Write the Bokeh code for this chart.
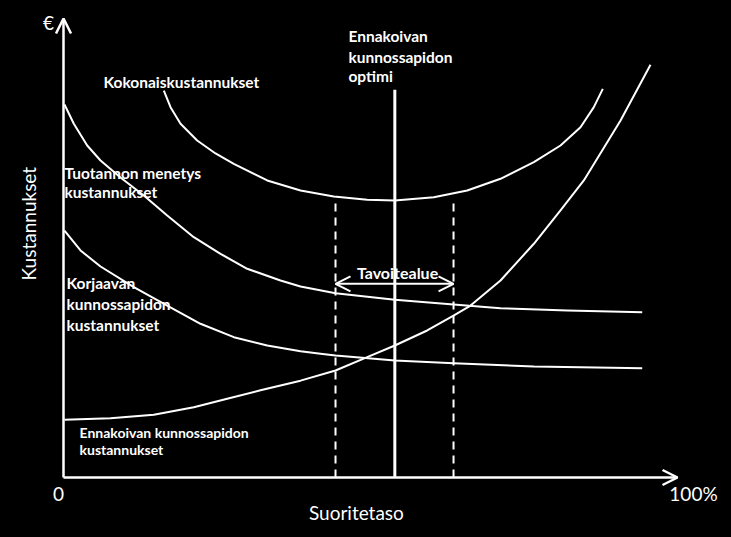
from bokeh.plotting import figure
from bokeh.models import Range1d, Arrow, OpenHead
from bokeh.core.properties import value
from bokeh.embed import file_html
from bokeh.resources import INLINE
import math

# --- data (x: suoritetaso %, y: kustannukset, arbitrary units 0..100) ---
total_x = [16.34, 17.43, 19.06, 21.77, 24.76, 27.74, 33.18, 38.60, 44.02, 49.46,
           53.96, 60.31, 65.75, 71.17, 76.60, 80.94, 84.20, 86.37, 87.83]
total_y = [84.31, 80.68, 77.06, 73.42, 70.59, 68.34, 64.71, 62.53, 61.22, 60.50,
           60.35, 61.07, 62.53, 65.08, 68.69, 72.33, 76.32, 80.68, 84.68]

loss_x = [0.16, 1.68, 3.86, 6.03, 9.28, 13.08, 16.89, 21.22, 25.57, 29.92, 35.34, 38.60, 44.30,
          53.96, 63.52, 71.17, 82.04, 94.25]
loss_y = [81.26, 77.06, 72.33, 69.06, 65.36, 61.44, 57.08, 52.35, 48.74, 45.47, 42.92, 41.61, 40.15,
          38.71, 37.69, 36.88, 36.38, 36.01]

corr_x = [0.16, 2.77, 6.03, 11.45, 16.89, 22.31, 27.74, 33.18, 38.60, 41.86, 44.30, 53.96, 63.52,
          76.60, 94.25]
corr_y = [53.81, 49.46, 45.97, 41.46, 37.47, 33.49, 30.57, 28.76, 27.52, 26.95, 26.58, 25.49, 24.90,
          24.18, 23.81]

prev_x = [0.16, 7.65, 14.71, 21.22, 26.66, 32.08, 38.60, 44.30, 49.46, 53.96, 59.23, 63.52, 66.29,
          71.17, 76.60, 80.94, 84.74, 90.72, 95.60]
prev_y = [12.57, 12.92, 13.66, 15.32, 17.15, 19.00, 21.10, 23.31, 26.21, 28.76, 32.03, 35.29, 37.47,
          42.92, 50.92, 58.17, 64.71, 77.78, 89.91]

optimum_x = 53.96
optimum_top = 84.47
target_low = 44.30
target_high = 63.52
target_top = 60.35
target_arrow_y = 42.20

FONT = "Lato"
WHITE = "white"

p = figure(width=731, height=537, output_backend="svg", toolbar_location=None,
           x_range=Range1d(-10.26, 108.79), y_range=Range1d(-13.07, 103.92),
           min_border=0, background_fill_color="black", border_fill_color="black",
           outline_line_color=None)
p.axis.visible = False
p.grid.visible = False

# axes with arrows
p.add_layout(Arrow(x_start=0, y_start=0, x_end=0, y_end=100, line_color=WHITE, line_width=2.5,
                   end=OpenHead(size=15, line_color=WHITE, line_width=2.5)))
p.add_layout(Arrow(x_start=0, y_start=0, x_end=100, y_end=0, line_color=WHITE, line_width=2.5,
                   end=OpenHead(size=15, line_color=WHITE, line_width=2.5)))

# curves
for xs, ys in [(total_x, total_y), (loss_x, loss_y), (corr_x, corr_y), (prev_x, prev_y)]:
    p.line(xs, ys, line_color=WHITE, line_width=2, line_join="round")

# optimum and target zone
p.segment(x0=[optimum_x], y0=[0], x1=[optimum_x], y1=[optimum_top], line_color=WHITE, line_width=3)
p.segment(x0=[target_low, target_high], y0=[0, 0], x1=[target_low, target_high],
          y1=[target_top, target_top], line_color=WHITE, line_width=2, line_dash="8 6")
p.add_layout(Arrow(x_start=target_low, y_start=target_arrow_y, x_end=target_high, y_end=target_arrow_y,
                   line_color=WHITE, line_width=2,
                   start=OpenHead(size=15, line_color=WHITE, line_width=2),
                   end=OpenHead(size=15, line_color=WHITE, line_width=2)))

def label(x, y, t, size="19px", bold=False, align="left", angle=0.0):
    p.text(x=[x], y=[y], text=[t], text_color=WHITE, text_font=value(FONT),
           text_font_size=size, text_font_style="bold" if bold else "normal",
           text_align=align, text_baseline="middle", angle=angle)

B = "15.5px"
label(-2.44, 99.1, "€", align="center")
label(6.51, 86.1, "Kokonaiskustannukset", size=B, bold=True)
label(0.16, 66.4, "Tuotannon menetys", size=B, bold=True)
label(0.16, 62.1, "kustannukset", size=B, bold=True)
label(0.49, 42.3, "Korjaavan", size=B, bold=True)
label(0.49, 37.7, "kunnossapidon", size=B, bold=True)
label(0.49, 33.3, "kustannukset", size=B, bold=True)
label(2.61, 9.8, "Ennakoivan kunnossapidon", size="14px", bold=True)
label(2.61, 6.1, "kustannukset", size="14px", bold=True)
label(46.4, 96.1, "Ennakoivan", size=B, bold=True)
label(46.4, 91.7, "kunnossapidon", size=B, bold=True)
label(46.4, 87.4, "optimi", size=B, bold=True)
label(54.4, 44.7, "Tavoitealue", size="16px", bold=True, align="center")
label(-0.81, -3.7, "0", align="center")
label(102.6, -3.5, "100%", align="center")
label(47.7, -7.6, "Suoritetaso", align="center")
label(-5.65, 55.3, "Kustannukset", align="center", angle=math.pi / 2)

html = file_html(p, INLINE)
html = html.replace("<head>", "<head><style>html, body { background: #000000; overflow: hidden; }</style>", 1)
open("out.html", "w").write(html)
